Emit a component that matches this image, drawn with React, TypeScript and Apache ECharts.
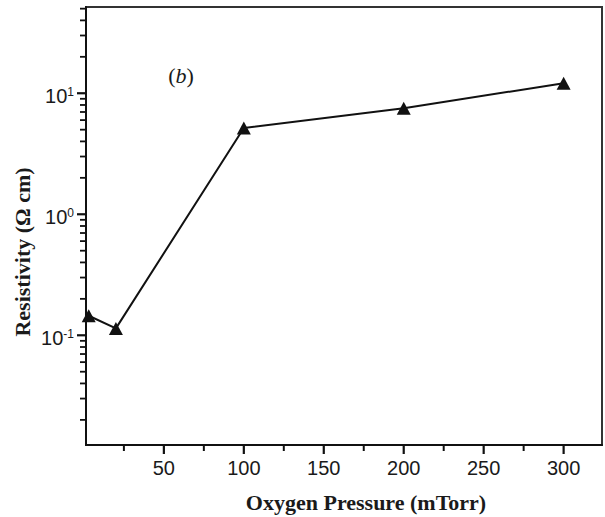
import React, { useEffect, useRef } from "react";
import * as echarts from "echarts";

// ---- data ----
const pressures = [3, 20, 100, 200, 300]; // mTorr
const resistivity = [0.145, 0.114, 5.17, 7.52, 12.1]; // Ω cm
const xMajorTicks = [50, 100, 150, 200, 250, 300];
const xMinorTicks = [25, 75, 125, 175, 225, 275];
const yDecades = [0.1, 1, 10];
const yMinorTicks = [
  0.02, 0.03, 0.04, 0.05, 0.06, 0.07, 0.08, 0.09,
  0.2, 0.3, 0.4, 0.5, 0.6, 0.7, 0.8, 0.9,
  2, 3, 4, 5, 6, 7, 8, 9,
  20, 30, 40, 50,
];
const xRange = [1.3, 324];
const yRange = [0.0124, 51.6];
const xTitle = "Oxygen Pressure (mTorr)";
const yTitle = "Resistivity (Ω cm)";
const panelLetter = "b";

const INK = "#111";
const TEXT = "#1a1a1a";
const SANS = "Liberation Sans, Arial, sans-serif";
const SERIF = "Liberation Serif, Times New Roman, serif";

export default function App() {
  const ref = useRef<HTMLDivElement>(null);

  useEffect(() => {
    if (!ref.current) return;
    const chart = echarts.init(ref.current, undefined, { renderer: "svg" });
    const lg = (v: number) => Math.log10(v);
    const yMin = lg(yRange[0]);
    const yMax = lg(yRange[1]);

    const option: any = {
      animation: false,
      backgroundColor: "#fff",
      grid: {
        left: 86,
        right: 3,
        top: 7,
        bottom: 72,
        show: true,
        borderColor: "#333",
        borderWidth: 2,
        backgroundColor: "transparent",
      },
      xAxis: {
        type: "value",
        position: "bottom",
        min: xRange[0],
        max: xRange[1],
        axisLine: { show: true, onZero: false, lineStyle: { color: INK, width: 2 } },
        axisTick: { show: false },
        axisLabel: {
          customValues: xMajorTicks,
          fontSize: 20,
          fontFamily: SANS,
          color: TEXT,
          margin: 13,
        },
        splitLine: { show: false },
      },
      yAxis: {
        type: "value",
        position: "left",
        min: yMin,
        max: yMax,
        axisLine: { show: true, onZero: false, lineStyle: { color: INK, width: 2 } },
        axisTick: { show: false },
        axisLabel: {
          customValues: yDecades.map(lg),
          margin: 12,
          padding: [6, 0, 0, 0],
          formatter: (v: number) => `{n|10}{sup|${Math.round(v)}}`,
          rich: {
            n: { fontSize: 20, fontFamily: SANS, color: TEXT, lineHeight: 20 },
            sup: {
              fontSize: 12,
              fontFamily: SANS,
              color: TEXT,
              verticalAlign: "top",
              lineHeight: 12,
            },
          },
        },
        splitLine: { show: false },
      },
      series: [
        {
          type: "line",
          data: pressures.map((p, i) => [p, lg(resistivity[i])]),
          symbol: "triangle",
          symbolSize: [14, 13],
          showSymbol: true,
          clip: false,
          itemStyle: { color: INK },
          lineStyle: { color: INK, width: 2 },
          z: 3,
        },
      ],
    };

    chart.setOption(option);

    // tick marks placed through the chart's own scales
    const px = (x: number, y: number) =>
      chart.convertToPixel({ gridIndex: 0 }, [x, y]) as number[];
    const tickEls: any[] = [];
    const xTick = (v: number, len: number, w: number) => {
      const p = px(v, yMin);
      tickEls.push({
        type: "line",
        silent: true,
        z: 10,
        shape: { x1: p[0], y1: p[1], x2: p[0], y2: p[1] + len },
        style: { stroke: INK, lineWidth: w },
      });
    };
    const yTick = (v: number, len: number, w: number) => {
      const p = px(xRange[0], lg(v));
      tickEls.push({
        type: "line",
        silent: true,
        z: 10,
        shape: { x1: p[0] - len, y1: p[1], x2: p[0], y2: p[1] },
        style: { stroke: INK, lineWidth: w },
      });
    };
    xMajorTicks.forEach((v) => xTick(v, 9, 2.2));
    xMinorTicks.forEach((v) => xTick(v, 6, 2));
    yDecades.forEach((v) => yTick(v, 9, 2.2));
    yMinorTicks.forEach((v) => yTick(v, 6, 1.8));

    chart.setOption({
      graphic: [
        ...tickEls,
        {
          type: "text",
          x: 22,
          y: 252,
          rotation: Math.PI / 2,
          style: {
            text: yTitle,
            fontSize: 22,
            fontWeight: "bold",
            fontFamily: SERIF,
            fill: TEXT,
            align: "center",
            verticalAlign: "middle",
          },
        },
        {
          type: "text",
          x: 366,
          y: 502,
          style: {
            text: xTitle,
            fontSize: 22,
            fontWeight: "bold",
            fontFamily: SERIF,
            fill: TEXT,
            align: "center",
            verticalAlign: "middle",
          },
        },
        {
          type: "text",
          x: 181,
          y: 75,
          style: {
            text: `({i|${panelLetter}})`,
            fontSize: 22,
            fontFamily: SERIF,
            fill: TEXT,
            align: "center",
            verticalAlign: "middle",
            rich: {
              i: { fontSize: 22, fontFamily: SERIF, fontStyle: "italic", fill: TEXT },
            },
          },
        },
      ],
    });
    return () => chart.dispose();
  }, []);

  return (
    <div
      ref={ref}
      style={{ position: "fixed", left: 0, top: 0, width: 605, height: 517 }}
    />
  );
}
